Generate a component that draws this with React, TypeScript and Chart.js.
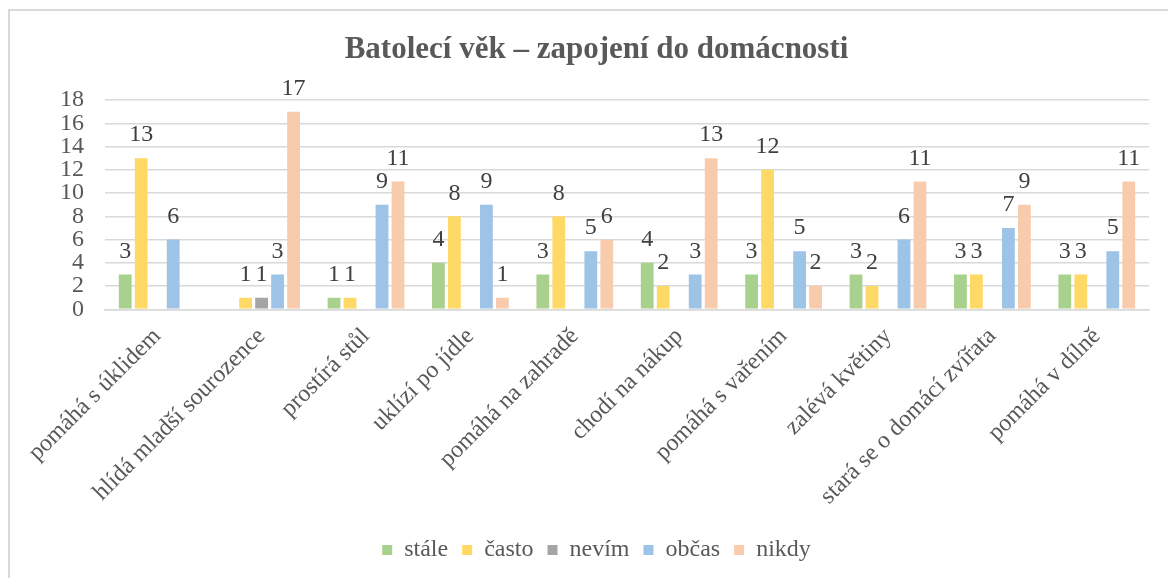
import React, { useEffect, useRef } from "react";
import { Chart, registerables } from "chart.js";

Chart.register(...registerables);

const categories = [
  "pomáhá s úklidem",
  "hlídá mladší sourozence",
  "prostírá stůl",
  "uklízí po jídle",
  "pomáhá na zahradě",
  "chodí na nákup",
  "pomáhá s vařením",
  "zalévá květiny",
  "stará se o domácí zvířata",
  "pomáhá v dílně",
];

const seriesNames = ["stále", "často", "nevím", "občas", "nikdy"];

const stale = [3, null, 1, 4, 3, 4, 3, 3, 3, 3];
const casto = [13, 1, 1, 8, 8, 2, 12, 2, 3, 3];
const nevim = [null, 1, null, null, null, null, null, null, null, null];
const obcas = [6, 3, 9, 9, 5, 3, 5, 6, 7, 5];
const nikdy = [null, 17, 11, 1, 6, 13, 2, 11, 9, 11];

const yTicks = [0, 2, 4, 6, 8, 10, 12, 14, 16, 18];

const colors = ["#A9D18E", "#FFD966", "#A5A5A5", "#9DC3E6", "#F8CBAD"];

const FONT = '"Liberation Serif", "Times New Roman", serif';

const valueLabels = {
  id: "valueLabels",
  afterDatasetsDraw(chart: any) {
    const ctx = chart.ctx;
    ctx.save();
    ctx.font = `24px ${FONT}`;
    ctx.fillStyle = "#404040";
    ctx.textAlign = "center";
    ctx.textBaseline = "middle";
    chart.data.datasets.forEach((ds: any, i: number) => {
      const meta = chart.getDatasetMeta(i);
      meta.data.forEach((el: any, j: number) => {
        const v = ds.data[j];
        if (v === null || v === undefined) return;
        ctx.fillText(String(v), el.x, el.y - 23);
      });
    });
    ctx.restore();
  },
};

export default function App() {
  const ref = useRef<HTMLCanvasElement>(null);
  useEffect(() => {
    const all = [stale, casto, nevim, obcas, nikdy];
    const chart = new Chart(ref.current!, {
      type: "bar",
      data: {
        labels: categories,
        datasets: all.map((d, i) => ({
          label: seriesNames[i],
          data: d,
          backgroundColor: colors[i],
          borderWidth: 0,
          categoryPercentage: 0.766,
          barPercentage: 0.8,
        })),
      },
      options: {
        responsive: false,
        animation: false,
        layout: { padding: { left: 44, right: 19, top: 0, bottom: 6 } },
        plugins: {
          title: {
            display: true,
            text: "Batolecí věk – zapojení do domácnosti",
            color: "#595959",
            font: { family: FONT, size: 31, weight: "bold" },
            padding: { top: 31.4, bottom: 31.4 },
          },
          legend: {
            position: "bottom",
            labels: {
              color: "#595959",
              font: { family: FONT, size: 24 },
              boxWidth: 10,
              boxHeight: 10,
              padding: 14,
            },
          },
          tooltip: { enabled: false },
        },
        scales: {
          x: {
            grid: { display: false },
            border: { color: "#d9d9d9", width: 1.5 },
            ticks: {
              color: "#595959",
              font: { family: FONT, size: 24 },
              minRotation: 45,
              maxRotation: 45,
              padding: 5,
              autoSkip: false,
            },
            afterFit: (scale: any) => {
              scale.height = 214.7;
            },
          },
          y: {
            min: 0,
            max: 18,
            afterBuildTicks: (scale: any) => {
              scale.ticks = yTicks.map((v) => ({ value: v }));
            },
            grid: { color: "#d9d9d9", lineWidth: 1.5, drawTicks: false },
            border: { display: false },
            ticks: {
              color: "#595959",
              font: { family: FONT, size: 24 },
              padding: 21,
              autoSkip: false,
            },
            afterFit: (scale: any) => {
              scale.width = 61;
            },
          },
        },
      },
      plugins: [valueLabels],
    });
    return () => chart.destroy();
  }, []);
  return (
    <>
      <div
        style={{
          position: "fixed",
          left: 8,
          top: 9,
          width: 1200,
          height: 620,
          border: "2px solid #d9d9d9",
          boxSizing: "border-box",
        }}
      />
      <canvas
        ref={ref}
        width={1168}
        height={578}
        style={{ position: "fixed", left: 0, top: 0, width: 1168, height: 578 }}
      />
    </>
  );
}
